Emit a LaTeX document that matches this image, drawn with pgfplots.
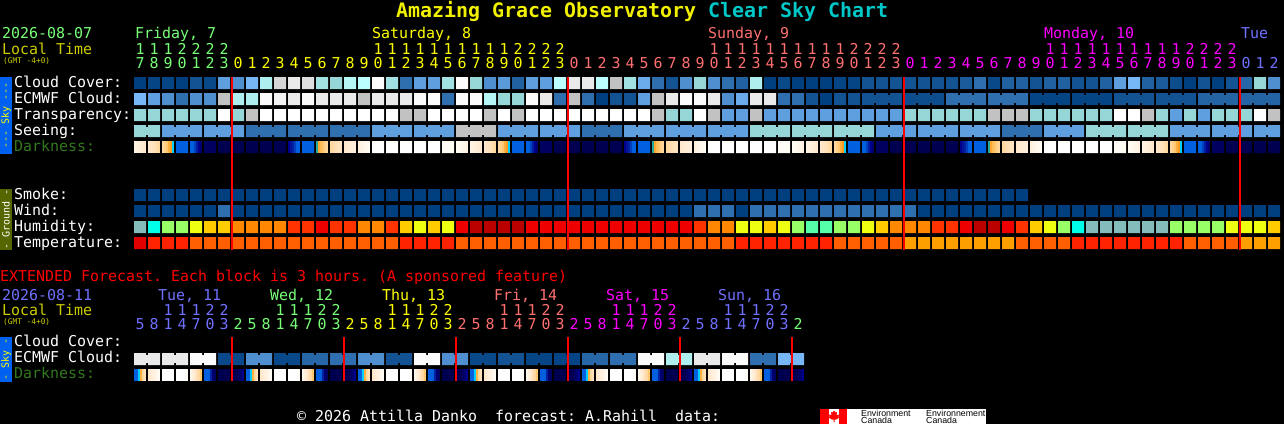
\documentclass[border=0pt]{standalone}
\usepackage{fontspec}
\usepackage{pgfplots}
\usepackage{pgfplotstable}
\pgfplotsset{compat=1.18}
\newfontfamily\mono{DejaVu Sans Mono}
\newfontfamily\lsans{Liberation Sans}
\definecolor{cgreen}{RGB}{120,255,120}
\definecolor{cblue}{RGB}{112,112,255}
\definecolor{csalmon}{RGB}{255,112,112}
\definecolor{cmag}{RGB}{255,0,255}
\definecolor{cyel}{RGB}{255,255,0}
\definecolor{ctitle}{RGB}{240,240,0}
\definecolor{ccyan}{RGB}{0,200,200}
\definecolor{clocal}{RGB}{204,204,0}
\definecolor{cdark}{RGB}{50,120,30}
\definecolor{skybar}{RGB}{0,96,240}
\definecolor{grbar}{RGB}{85,102,0}
\pgfdeclareplotmark{strp}{\pgfpathrectangle{\pgfpoint{-1pt}{-6pt}}{\pgfpoint{2pt}{12pt}}\pgfusepathqfill}
\pgfdeclareplotmark{conn}{\pgfpathrectangle{\pgfpoint{-1.2pt}{-4pt}}{\pgfpoint{2.4pt}{8pt}}\pgfusepathqfill}
\pgfplotsset{
  pix/.style={at={(0,0)},anchor=south west,scale only axis,width=1284pt,height=424pt,
    xmin=-10,xmax=81.7142857,ymin=0,ymax=424,y dir=reverse,hide axis},
  cell/.style={scatter, only marks, scatter src=explicit, mark=square*, mark size=6pt,
    scatter/use mapped color={draw=mapped color,fill=mapped color},
    mark options={line width=0.01pt}},
  stripe/.style={scatter, only marks, scatter src=explicit, mark=strp,
    scatter/use mapped color={draw=mapped color,fill=mapped color}},
  connector/.style={scatter, only marks, scatter src=explicit, mark=conn,
    scatter/use mapped color={draw=mapped color,fill=mapped color}},
}
% i cloud ecmwf transparency seeing humidity temperature wind seeing-link ecmwf-link
\pgfplotstableread{
i cl ec tr se hu te wi sg eg
0 0 5 6 6 13 23 0 1 0
1 .3 4 6 6 14 24 0 0 0
2 .3 3 6 4 16 24 0 1 0
3 0 2 6 4 16 24 0 1 0
4 1 3 6 4 17 25 0 0 0
5 .5 3 6 4 18 25 0 1 0
6 4 9 12 4 18 25 2 1 0
7 3 7 6 4 19 25 0 0 0
8 5 7 9 2 19 25 0 1 0
9 7 11 12 2 19 25 0 1 0
10 9.5 10.5 12 2 19 25 0 0 0
11 10 10 12 2 20 25 0 1 0
12 9.7 11 12 2 20 25 0 1 0
13 6.5 10 12 2 21 25 0 0 0
14 6 10 12 2 20 25 0 1 0
15 7.5 10 12 2 20 25 0 1 0
16 8 9 12 2 19 25 0 0 0
17 11 10 12 4 19 25 0 1 0
18 6.5 10 12 4 20 25 0 1 0
19 2 10 9 4 18 24 0 0 0
20 4 11 9 4 17 24 0 1 0
21 4 11 12 4 18 24 0 1 0
22 6.5 2 12 4 17 24 0 0 0
23 11 11 12 9 21 25 0 1 0
24 6 11 12 9 22 25 0 1 0
25 3 7.5 9 9 22 25 0 0 0
26 3.7 6 12 4 22 25 0 1 0
27 1.5 6 9 4 22 25 0 1 0
28 4 11 12 4 21 25 0 0 0
29 4 10 12 4 21 25 0 1 0
30 8 2 12 4 21 25 0 1 0
31 10 9 12 4 21 25 0 0 0
32 10 2 12 2 21 25 0 1 0
33 8 0 12 2 21 25 0 1 0
34 9 1 12 2 21 25 0 0 0
35 6.5 1 12 4 21 25 0 1 0
36 4.5 4 12 4 21 25 0 1 0
37 2 9 9 4 21 25 0 0 0
38 1 10 6 4 21 25 0 1 0
39 3 11 6 4 21 25 0 1 0
40 6 11 12 4 20 25 2 0 0
41 3 10 9 4 19 25 2 1 0
42 2 3 4 4 19 25 2 1 0
43 1.5 4.5 4 4 17 24 0 0 0
44 7 10 9 6 17 24 2 1 0
45 0 10 4 6 18 24 2 1 0
46 .5 2 4 6 17 24 2 0 0
47 0 2 4 6 16 24 2 1 0
48 0 1 4 6 15 24 2 1 0
49 0 0 4 6 15 24 2 0 0
50 .3 1 4 6 16 25 2 1 0
51 .3 1 4 6 16 25 2 1 0
52 1 1 4 6 17 25 2 0 1
53 1 1 4 4 18 25 2 1 1
54 1 1 4 4 19 25 2 1 0
55 1 .7 6 4 19 26 2 0 1
56 1 .7 6 4 19 26 0 1 1
57 1 .7 6 4 20 26 0 1 0
58 1 2 6 4 20 26 0 0 1
59 1.3 2 6 4 21 26 0 1 1
60 2 2 6 4 22 26 0 1 0
61 .5 2 9 4 22 26 0 0 1
62 1.5 2 9 2 21 26 0 1 1
63 1.5 2 9 2 20 25 0 1 0
64 1 .3 6 2 18 25 0 0 1
65 1.5 .3 6 4 17 25 0 1 1
66 1.5 .3 6 4 16 25 0 1 0
67 1 .3 6 4 14 24 0 0 1
68 1 .3 6 6 13 24 0 1 1
69 1.5 .3 6 6 13 24 0 1 0
70 4 1 12 6 13 24 0 0 1
71 5 1 12 6 13 24 0 1 1
72 1.5 1 9 6 13 24 0 1 0
73 1.3 1 6 6 13 24 0 0 1
74 .7 1 4 4 16 24 0 1 1
75 0 1 6 4 16 25 0 1 0
76 1 1.6 4 4 16 25 0 0 1
77 0 1.6 6 4 16 25 0 1 1
78 1 1.6 6 4 17 25 0 1 0
79 1.7 1.6 6 4 17 26 0 0 1
80 6 1.6 12 4 17 26 0 1 1
81 3 1.6 9 4 18 26 0 0 0
}\sky
% extended forecast: j cloud-index link
\pgfplotstableread{
j e g
0 10 1
1 10 0
2 10 1
3 10 0
4 11 1
5 11 0
6 .5 1
7 .5 0
8 3 1
9 3 0
10 .5 1
11 .5 0
12 1.7 1
13 1.7 0
14 2 1
15 2 0
16 3 1
17 3 0
18 1 1
19 1 0
20 11 1
21 11 0
22 3 1
23 3 0
24 .5 1
25 .5 0
26 1 1
27 1 0
28 .3 1
29 .3 0
30 .3 1
31 .3 0
32 1.7 1
33 1.7 0
34 2 1
35 2 0
36 11 1
37 11 0
38 7 1
39 7 0
40 10 1
41 10 0
42 11 1
43 11 0
44 2 1
45 2 0
46 5 1
47 5 0
}\ext
% darkness, one day: flat cells (k, colour index)
\pgfplotstableread{
k m
3 33
5 28
6 27
7 27
8 27
9 27
10 27
12 33
17 12
18 12
19 12
20 12
21 12
22 44
}\dflat
% darkness, one day: graded cells (k, pixel offset, colour index)
\pgfplotstableread{
k o m
0 -5 42.5
0 -3 42.3
0 -1 42
0 1 41.7
0 3 41.3
0 5 41
1 -5 41
1 -3 40.6
1 -1 40.3
1 1 40
1 3 39.5
1 5 39
2 -5 39
2 -3 38.5
2 -1 38
2 1 37
2 3 36
2 5 34
4 -5 33
4 -3 33
4 -1 32
4 1 31
4 3 30
4 5 29
11 -5 30
11 -3 30.5
11 -1 31
11 1 32
11 3 33
11 5 33
13 -5 35
13 -3 36.5
13 -1 37.5
13 1 38
13 3 38.5
13 5 39
14 -5 39
14 -3 39.3
14 -1 39.7
14 1 40
14 3 40.3
14 5 40.6
15 -5 41
15 -3 41.2
15 -1 41.4
15 1 41.6
15 3 41.8
15 5 42
16 -5 42
16 -3 42.5
16 -1 43
16 1 43.3
16 3 43.6
16 5 44
23 -5 44
23 -3 43.7
23 -1 43.3
23 1 43
23 3 42.7
23 5 42.3
}\dgrad
% darkness, extended forecast, 8 blocks
\pgfplotstableread{
k o m
0 -5 33
0 -3 33
0 -1 34
0 1 37
0 3 39
0 5 40
1 -5 41
1 -3 41.5
1 -1 42
1 1 42.5
1 3 43
1 5 44
2 -5 12
2 -3 12
2 -1 12
2 1 12
2 3 12
2 5 12
3 -5 12
3 -3 12
3 -1 12
3 1 12
3 3 12
3 5 44
4 -5 43
4 -3 42
4 -1 41
4 1 40
4 3 39
4 5 38
5 -5 33
5 -3 33
5 -1 33
5 1 31
5 3 29
5 5 28
6 -5 27
6 -3 27
6 -1 27
6 1 27
6 3 27
6 5 27
7 -5 27
7 -3 27
7 -1 27
7 1 28
7 3 29
7 5 30
}\dext
\newcommand\T[5][14.95]{\node[anchor=base west,inner sep=0pt,text=#4,font={\mono\fontsize{#1}{#1}\selectfont}] at ({#2*1pt},{(424-#3)*1pt}) {#5};}
\newcommand\Dg[4]{\foreach[count=\k from #3]\d in {#4}{\node[anchor=base,inner sep=0pt,text=#2,font={\mono\fontsize{14.95}{15}\selectfont}] at ({(140+14*\k)*1pt},{(424-#1)*1pt}) {\d};}}
\newcommand\Vt[3]{\node[rotate=90,anchor=center,inner sep=0pt,text=#2,font={\mono\fontsize{10}{10}\selectfont}] at (6pt,{(424-#1)*1pt}) {#3};}
\begin{document}
\frenchspacing
\begin{tikzpicture}
\useasboundingbox (0,0) rectangle (1284pt,424pt);
\fill[black] (0,0) rectangle (1284pt,424pt);
\begin{axis}[pix,
  point meta min=0,point meta max=44,
  colormap={csc}{rgb255=(0,63,127) rgb255=(19,83,147) rgb255=(47,111,175) rgb255=(79,143,207)
    rgb255=(95,159,223) rgb255=(119,183,247) rgb255=(150,214,214) rgb255=(174,238,238)
    rgb255=(187,255,255) rgb255=(194,194,194) rgb255=(234,234,234) rgb255=(251,251,251)
    rgb255=(255,255,255) rgb255=(132,188,188) rgb255=(0,255,232) rgb255=(85,255,170)
    rgb255=(153,255,102) rgb255=(238,255,17) rgb255=(255,204,0) rgb255=(255,136,0)
    rgb255=(255,51,0) rgb255=(238,0,0) rgb255=(187,0,0) rgb255=(224,0,0)
    rgb255=(255,34,0) rgb255=(255,95,0) rgb255=(255,159,0) rgb255=(0,0,80)
    rgb255=(0,0,96) rgb255=(0,0,112) rgb255=(0,0,144) rgb255=(0,32,160)
    rgb255=(0,64,192) rgb255=(0,96,224) rgb255=(0,208,255) rgb255=(32,168,160)
    rgb255=(255,154,32) rgb255=(255,176,64) rgb255=(255,200,112) rgb255=(255,216,160)
    rgb255=(255,224,184) rgb255=(255,232,204) rgb255=(255,240,220) rgb255=(255,246,234)
    rgb255=(255,251,245)},
]
% side bars
\addplot[fill=skybar,draw=none] coordinates {(-10,77)(-9.142857,77)(-9.142857,154)(-10,154)} -- cycle;
\addplot[fill=grbar,draw=none] coordinates {(-10,189)(-9.142857,189)(-9.142857,250)(-10,250)} -- cycle;
\addplot[fill=skybar,draw=none] coordinates {(-10,337)(-9.142857,337)(-9.142857,382)(-10,382)} -- cycle;
% main rows
\addplot[cell] table[x=i,y expr=83,meta=cl]{\sky};
\addplot[cell] table[x=i,y expr=99,meta=ec]{\sky};
\addplot[cell] table[x=i,y expr=115,meta=tr]{\sky};
\addplot[cell] table[x=i,y expr=131,meta=se]{\sky};
\addplot[connector,restrict y to domain=1:500] table[x expr=\thisrow{i}+0.5,y expr=131*\thisrow{sg},meta=se]{\sky};
\addplot[connector,restrict y to domain=1:500] table[x expr=\thisrow{i}+0.5,y expr=99*\thisrow{eg},meta=ec]{\sky};
\pgfplotsinvokeforeach{0,24,48,72}{
  \addplot[cell,restrict x to domain=-1:81.5] table[x expr=\thisrow{k}+#1,y expr=147,meta=m]{\dflat};
  \addplot[stripe,restrict x to domain=-1:81.5] table[x expr=\thisrow{k}+\thisrow{o}/14+#1,y expr=147,meta=m]{\dgrad};
}
\addplot[cell,restrict x to domain=0:63] table[x=i,y expr=195,meta expr=0]{\sky};
\addplot[cell] table[x=i,y expr=211,meta=wi]{\sky};
\addplot[cell] table[x=i,y expr=227,meta=hu]{\sky};
\addplot[cell] table[x=i,y expr=243,meta=te]{\sky};
% extended rows
\addplot[cell] table[x=j,y expr=359,meta=e]{\ext};
\addplot[connector,restrict y to domain=1:500] table[x expr=\thisrow{j}+0.5,y expr=359*\thisrow{g},meta=e]{\ext};
\pgfplotsinvokeforeach{0,8,16,24,32,40}{
  \addplot[stripe] table[x expr=\thisrow{k}+\thisrow{o}/14+#1,y expr=375,meta=m]{\dext};
}
% flag
\addplot[fill=white,draw=none] coordinates {(49.2143,409)(60.4286,409)(60.4286,424)(49.2143,424)} -- cycle;
\addplot[fill=red,draw=none] coordinates {(48.5714,409)(49.2143,409)(49.2143,424)(48.5714,424)} -- cycle;
\addplot[fill=red,draw=none] coordinates {(49.9286,409)(50.5,409)(50.5,424)(49.9286,424)} -- cycle;
\addplot[fill=red,draw=none] table[x expr=(\thisrow{x}-140)/14,y=y]{
x y
834 410.5
835.5 412.5
837 412
836.5 415
839 414.5
838.5 416.5
839.5 417.5
836 419.5
834.5 419.5
834.5 422
833.5 422
833.5 419.5
832 419.5
828.5 417.5
829.5 416.5
829 414.5
831.5 415
831 412
832.5 412.5
} -- cycle;
\end{axis}
% midnight lines, over the cells
\begin{axis}[pix]
\pgfplotsinvokeforeach{6.5714,30.5714,54.5714,78.5714}{
  \addplot[red,line width=2pt] coordinates {(#1,77)(#1,250)};
}
\pgfplotsinvokeforeach{6.5714,14.5714,22.5714,30.5714,38.5714,46.5714}{
  \addplot[red,line width=2pt] coordinates {(#1,337)(#1,381)};
}
\end{axis}
% title
\node[anchor=base west,inner sep=0pt,text=ctitle,font={\mono\bfseries\fontsize{19.93}{20}\selectfont}] at (396pt,{(424-18)*1pt}) {Amazing Grace Observatory};
\node[anchor=base west,inner sep=0pt,text=ccyan,font={\mono\bfseries\fontsize{19.93}{20}\selectfont}] at (708pt,{(424-18)*1pt}) {Clear Sky Chart};
% main header
\T{2}{39}{cgreen}{2026-08-07}
\T{2}{55}{clocal}{Local Time}
\T[7.8]{3}{64}{clocal}{(GMT -4+0)}
\T{135}{39}{cgreen}{Friday, 7}
\T{372}{39}{cyel}{Saturday, 8}
\T{708}{39}{csalmon}{Sunday, 9}
\T{1044}{39}{cmag}{Monday, 10}
\T{1241}{39}{cblue}{Tue}
\Dg{55}{cgreen}{0}{1,1,1,2,2,2,2}
\Dg{55}{cyel}{17}{1,1,1,1,1,1,1,1,1,1,2,2,2,2}
\Dg{55}{csalmon}{41}{1,1,1,1,1,1,1,1,1,1,2,2,2,2}
\Dg{55}{cmag}{65}{1,1,1,1,1,1,1,1,1,1,2,2,2,2}
\Dg{69}{cgreen}{0}{7,8,9,0,1,2,3}
\Dg{69}{cyel}{7}{0,1,2,3,4,5,6,7,8,9,0,1,2,3,4,5,6,7,8,9,0,1,2,3}
\Dg{69}{csalmon}{31}{0,1,2,3,4,5,6,7,8,9,0,1,2,3,4,5,6,7,8,9,0,1,2,3}
\Dg{69}{cmag}{55}{0,1,2,3,4,5,6,7,8,9,0,1,2,3,4,5,6,7,8,9,0,1,2,3}
\Dg{69}{cblue}{79}{0,1,2}
% row labels
\T{14}{87}{white}{Cloud Cover:}
\T{14}{103}{white}{ECMWF Cloud:}
\T{14}{119}{white}{Transparency:}
\T{14}{135}{white}{Seeing:}
\T{14}{151}{cdark}{Darkness:}
\T{14}{199}{white}{Smoke:}
\T{14}{215}{white}{Wind:}
\T{14}{231}{white}{Humidity:}
\T{14}{247}{white}{Temperature:}
\Vt{115.5}{cyel}{--- Sky ---}
\Vt{219.5}{white}{- Ground -}
\Vt{359.5}{cyel}{- Sky -}
% extended header
\T{0}{281}{red}{EXTENDED Forecast. Each block is 3 hours. (A sponsored feature)}
\T{2}{300}{cblue}{2026-08-11}
\T{2}{315}{clocal}{Local Time}
\T[7.8]{3}{324}{clocal}{(GMT -4+0)}
\T{158}{300}{cblue}{Tue, 11}
\T{270}{300}{cgreen}{Wed, 12}
\T{382}{300}{cyel}{Thu, 13}
\T{494}{300}{csalmon}{Fri, 14}
\T{606}{300}{cmag}{Sat, 15}
\T{718}{300}{cblue}{Sun, 16}
\Dg{315}{cblue}{2}{1,1,1,2,2}
\Dg{315}{cgreen}{10}{1,1,1,2,2}
\Dg{315}{cyel}{18}{1,1,1,2,2}
\Dg{315}{csalmon}{26}{1,1,1,2,2}
\Dg{315}{cmag}{34}{1,1,1,2,2}
\Dg{315}{cblue}{42}{1,1,1,2,2}
\Dg{329}{cblue}{0}{5,8,1,4,7,0,3}
\Dg{329}{cgreen}{7}{2,5,8,1,4,7,0,3}
\Dg{329}{cyel}{15}{2,5,8,1,4,7,0,3}
\Dg{329}{csalmon}{23}{2,5,8,1,4,7,0,3}
\Dg{329}{cmag}{31}{2,5,8,1,4,7,0,3}
\Dg{329}{cblue}{39}{2,5,8,1,4,7,0,3}
\Dg{329}{cgreen}{47}{2}
\T{14}{346}{white}{Cloud Cover:}
\T{14}{362}{white}{ECMWF Cloud:}
\T{14}{378}{cdark}{Darkness:}
% footer
\T{297}{421}{white}{© 2026 Attilla Danko\ \ forecast: A.Rahill\ \ data:}
\node[anchor=base west,inner sep=0pt,text=black,font={\lsans\fontsize{8.8}{9}\selectfont}] at (861pt,{(424-416)*1pt}) {Environment};
\node[anchor=base west,inner sep=0pt,text=black,font={\lsans\fontsize{8.8}{9}\selectfont}] at (861pt,{(424-423)*1pt}) {Canada};
\node[anchor=base west,inner sep=0pt,text=black,font={\lsans\fontsize{8.8}{9}\selectfont}] at (926pt,{(424-416)*1pt}) {Environnement};
\node[anchor=base west,inner sep=0pt,text=black,font={\lsans\fontsize{8.8}{9}\selectfont}] at (926pt,{(424-423)*1pt}) {Canada};
\end{tikzpicture}
\end{document}
